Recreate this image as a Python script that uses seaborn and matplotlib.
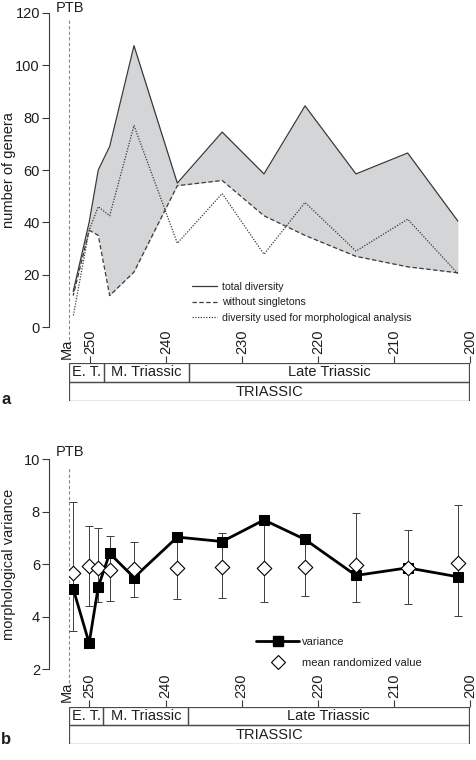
import numpy as np
import matplotlib
matplotlib.use('Agg')
import matplotlib.pyplot as plt
from matplotlib.patches import Rectangle
from matplotlib.lines import Line2D
import seaborn as sns
import pandas as pd

# ages of the sampled intervals (Ma)
ages = [252.2, 250.1, 248.9, 247.4, 244.2, 238.5, 232.6, 227.1, 221.7, 215.0, 208.2, 201.6]

# panel a: number of genera
total_diversity = [13.5, 40, 60, 69, 107.5, 55, 74.5, 58.5, 84.5, 58.5, 66.5, 40.5]
without_singletons = [12, 37, 35, 12, 21, 54, 56, 42.5, 35, 27, 23, 20.7]
morpho_diversity = [4, 37, 46, 42.5, 77, 32, 51, 27.8, 47.6, 29, 41.2, 20.4]

# panel b: morphological variance
variance = [5.07, 2.99, 5.14, 6.41, 5.49, 7.03, 6.86, 7.68, 6.94, 5.57, 5.86, 5.52]
rand_mean = [5.65, 5.93, 5.84, 5.78, 5.81, 5.87, 5.90, 5.87, 5.88, 5.97, 5.87, 6.06]
rand_low = [3.47, 4.41, 4.57, 4.61, 4.76, 4.67, 4.70, 4.55, 4.80, 4.57, 4.48, 4.04]
rand_high = [8.38, 7.45, 7.36, 7.08, 6.83, 7.00, 7.17, 7.60, 6.90, 7.93, 7.29, 8.25]

# time scale
ptb = 252.7
epochs = ['E. T.', 'M. Triassic', 'Late Triassic']
epoch_bounds = [252.7, 248.2, 237.0, 200.1]
period = 'TRIASSIC'
age_ticks = [250, 240, 230, 220, 210, 200]

XLIM = (252.75, 200.0)
LINE = '#3a3a3a'
TXT = '#1e1e1e'

sns.set_theme(style='ticks')
plt.rcParams['font.family'] = ['Liberation Sans', 'DejaVu Sans']
plt.rcParams['text.color'] = TXT
plt.rcParams['axes.labelcolor'] = TXT
plt.rcParams['xtick.color'] = LINE
plt.rcParams['ytick.color'] = LINE
plt.rcParams['xtick.labelcolor'] = TXT
plt.rcParams['ytick.labelcolor'] = TXT

W, H = 477, 760
fig = plt.figure(figsize=(W / 100, H / 100), dpi=100)


def px_axes(left, top, right, bottom):
    """axes from pixel box"""
    return fig.add_axes([left / W, 1 - bottom / H, (right - left) / W, (bottom - top) / H])


def style_main(ax, yticks, ylabel):
    ax.set_xlim(XLIM)
    ax.set_ylim(yticks[0], yticks[-1])
    ax.set_yticks(yticks)
    ax.set_xticks([])
    for s in ['top', 'right', 'bottom']:
        ax.spines[s].set_visible(False)
    ax.spines['left'].set_position(('outward', 14.4))
    ax.spines['left'].set_color(LINE)
    ax.spines['left'].set_linewidth(0.8)
    ax.tick_params(axis='y', length=5, width=0.8, pad=1.5, labelsize=10.5)
    ax.set_ylabel(ylabel, fontsize=10.5)
    ax.yaxis.set_label_coords(-0.133, 0.5)
    ax.set_facecolor('none')


def draw_timescale(ax):
    ax.set_xlim(XLIM)
    ax.set_ylim(0, 2)
    for s in ax.spines.values():
        s.set_visible(False)
    ax.set_yticks([])
    ax.set_xticks(age_ticks)
    ax.xaxis.set_ticks_position('top')
    ax.tick_params(axis='x', direction='out', length=5, width=0.8, pad=1.5,
                   labelsize=10.5, labelrotation=90)
    for name, a, b in zip(epochs, epoch_bounds[:-1], epoch_bounds[1:]):
        ax.add_patch(Rectangle((b, 1), a - b, 1, fill=False, ec='#4a4a4a', lw=0.9))
        ax.text((a + b) / 2, 1.5, name, ha='center', va='center', fontsize=10.5)
    ax.add_patch(Rectangle((epoch_bounds[-1], 0), epoch_bounds[0] - epoch_bounds[-1], 1,
                           fill=False, ec='#4a4a4a', lw=0.9))
    ax.text((epoch_bounds[0] + epoch_bounds[-1]) / 2, 0.5, period,
            ha='center', va='center', fontsize=10.5)


def ptb_line(ax, ymin, ymax, label_y):
    ax.axvline(ptb, ymin=ymin, ymax=ymax, color='#8a8a8a', lw=0.8,
               ls=(0, (3, 2)), clip_on=False, zorder=0)
    fig.text(70 / W, 1 - label_y / H, 'PTB', ha='center', va='center', fontsize=10.5)


# ---------- panel a ----------
ax1 = px_axes(69, 13, 470, 327)
style_main(ax1, [0, 20, 40, 60, 80, 100, 120], 'number of genera')
ax1.fill_between(ages, without_singletons, total_diversity, color='#d4d5d7', lw=0, zorder=1)

df_a = pd.DataFrame({'age': ages, 'total': total_diversity,
                     'without': without_singletons, 'morph': morpho_diversity})
sns.lineplot(data=df_a, x='age', y='total', ax=ax1, color=LINE, lw=0.9, zorder=3)
sns.lineplot(data=df_a, x='age', y='without', ax=ax1, color=LINE, lw=0.9,
             linestyle=(0, (3.5, 2)), zorder=3)
sns.lineplot(data=df_a, x='age', y='morph', ax=ax1, color=LINE, lw=0.9,
             linestyle=(0, (1, 1.2)), zorder=3)
ax1.set_xlabel('')
ax1.set_xlim(XLIM)
ptb_line(ax1, -0.041, 0.984, 8)

handles_a = [Line2D([], [], color=LINE, lw=0.9),
             Line2D([], [], color=LINE, lw=0.9, ls=(0, (3.5, 2))),
             Line2D([], [], color=LINE, lw=0.9, ls=(0, (1, 1.2)))]
ax1.legend(handles_a, ['total diversity', 'without singletons',
                       'diversity used for morphological analysis'],
           loc='upper left', bbox_to_anchor=(192 / W, 1 - 282 / H),
           bbox_transform=fig.transFigure, frameon=False, fontsize=7.6,
           handlelength=2.4, handletextpad=0.4, labelspacing=0.5,
           borderpad=0, borderaxespad=0)

ts1 = px_axes(69, 363, 470, 401)
draw_timescale(ts1)
fig.text(67 / W, 1 - 349 / H, 'Ma', rotation=90, ha='center', va='center', fontsize=10.5)
fig.text(6 / W, 1 - 399 / H, 'a', ha='center', va='center', fontsize=12, fontweight='bold')

# ---------- panel b ----------
ax2 = px_axes(69, 459, 470, 669.3)
style_main(ax2, [2, 4, 6, 8, 10], 'morphological variance')

rm = np.array(rand_mean)
yerr = [rm - np.array(rand_low), np.array(rand_high) - rm]
ax2.errorbar(ages, rand_mean, yerr=yerr, fmt='none', ecolor='#3c3c3c',
             elinewidth=0.7, capsize=2.6, capthick=0.7, zorder=2)

df_b = pd.DataFrame({'age': ages, 'variance': variance, 'rand': rand_mean})
sns.lineplot(data=df_b, x='age', y='variance', ax=ax2, color='black', lw=2.0,
             marker='s', markersize=7, markeredgecolor='black', zorder=3)
sns.scatterplot(data=df_b, x='age', y='rand', ax=ax2, marker='D', s=55,
                facecolor='white', edgecolor='black', linewidth=0.8, zorder=4)
ax2.set_xlabel('')
ax2.set_xlim(XLIM)
ptb_line(ax2, -0.065, 0.957, 452)

handles_b = [Line2D([], [], color='black', lw=2.0, marker='s', markersize=7),
             Line2D([], [], color='none', marker='D', markersize=7.3,
                    markerfacecolor='white', markeredgecolor='black', markeredgewidth=0.8)]
ax2.legend(handles_b, ['variance', 'mean randomized value'],
           loc='upper left', bbox_to_anchor=(256 / W, 1 - 637 / H),
           bbox_transform=fig.transFigure, frameon=False, fontsize=8,
           handlelength=3.9, handletextpad=0.2, labelspacing=1.0,
           borderpad=0, borderaxespad=0)

ts2 = px_axes(68.5, 706.7, 470, 744)
draw_timescale(ts2)
fig.text(67 / W, 1 - 692 / H, 'Ma', rotation=90, ha='center', va='center', fontsize=10.5)
fig.text(6 / W, 1 - 740 / H, 'b', ha='center', va='center', fontsize=12, fontweight='bold')

fig.savefig('out.png', dpi=100, facecolor='white')
